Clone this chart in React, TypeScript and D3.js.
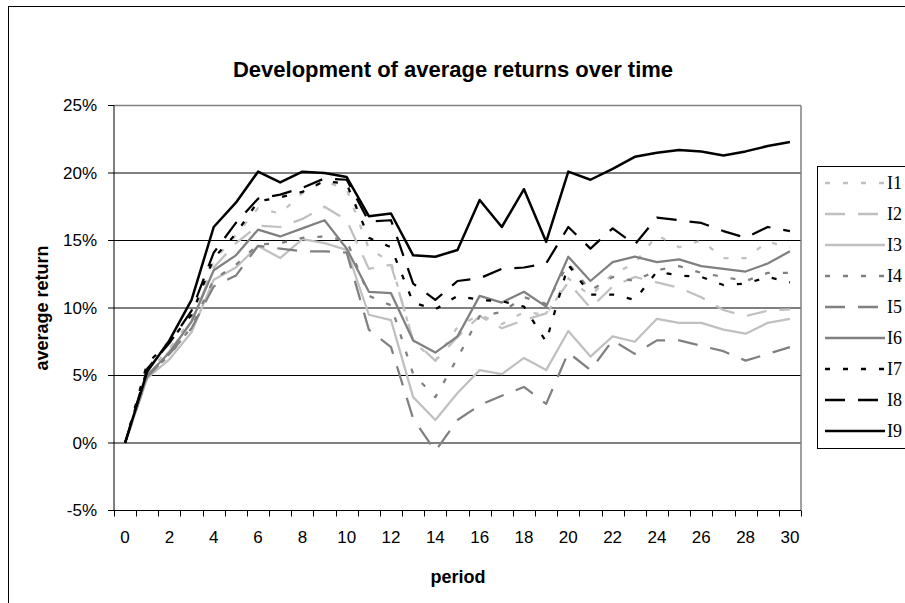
import React from "react";
import * as d3 from "d3";

const periods: number[] = d3.range(0, 31);
const xTickLabels: number[] = [0, 2, 4, 6, 8, 10, 12, 14, 16, 18, 20, 22, 24, 26, 28, 30];
const yTicks: number[] = [-5, 0, 5, 10, 15, 20, 25];

const I1 = [0, 5.2, 7.0, 9.2, 13.5, 15.4, 17.4, 17.0, 18.5, 19.4, 18.8, 14.4, 13.4, 7.5, 6.1, 8.6, 9.5, 8.8, 9.7, 9.5, 12.2, 10.9, 12.5, 13.3, 15.4, 14.5, 15.0, 13.7, 13.7, 14.9, 14.5];
const I2 = [0, 5.0, 6.8, 9.0, 13.0, 14.8, 16.1, 16.0, 16.6, 17.5, 16.5, 12.9, 13.2, 7.6, 6.1, 7.85, 9.4, 8.5, 9.1, 9.6, 11.9, 10.0, 11.6, 12.3, 11.9, 11.5, 10.8, 9.85, 9.4, 9.8, 9.9];
const I3 = [0, 4.8, 6.2, 8.2, 12.1, 13.0, 14.6, 13.7, 15.1, 14.8, 14.3, 9.5, 9.1, 3.4, 1.7, 3.7, 5.4, 5.1, 6.3, 5.4, 8.3, 6.4, 7.9, 7.5, 9.2, 8.9, 8.9, 8.4, 8.1, 8.9, 9.2];
const I4 = [0, 5.0, 6.5, 8.6, 12.1, 13.2, 14.7, 14.8, 15.2, 15.3, 15.0, 10.9, 10.2, 5.1, 3.4, 6.3, 9.4, 9.7, 10.8, 10.3, 13.3, 11.3, 12.3, 12.0, 12.8, 13.1, 12.6, 12.3, 12.0, 12.6, 12.6];
const I5 = [0, 4.9, 6.6, 8.5, 11.6, 12.4, 14.6, 14.4, 14.2, 14.2, 14.1, 8.4, 7.1, 1.8, -0.6, 1.7, 2.8, 3.5, 4.15, 2.9, 6.7, 5.4, 7.6, 6.6, 7.6, 7.6, 7.2, 6.8, 6.1, 6.6, 7.1];
const I6 = [0, 5.0, 6.7, 9.0, 12.8, 13.9, 15.8, 15.3, 15.9, 16.5, 14.4, 11.2, 11.1, 7.6, 6.7, 7.9, 10.9, 10.4, 11.2, 10.1, 13.8, 12.0, 13.4, 13.8, 13.4, 13.6, 13.1, 12.9, 12.7, 13.3, 14.2];
const I7 = [0, 5.9, 7.5, 9.5, 13.7, 15.5, 17.9, 18.2, 18.6, 19.4, 19.2, 15.2, 14.5, 10.4, 9.9, 10.9, 10.6, 10.5, 10.1, 7.5, 13.2, 11.0, 11.0, 10.6, 12.7, 12.4, 12.3, 11.7, 11.8, 12.3, 11.9];
const I8 = [0, 5.5, 7.4, 9.8, 14.1, 16.3, 18.1, 18.4, 18.9, 19.6, 19.5, 16.4, 16.5, 11.8, 10.6, 12.0, 12.2, 12.9, 13.0, 13.3, 16.0, 14.4, 15.9, 14.7, 16.7, 16.5, 16.3, 15.7, 15.2, 16.0, 15.7];
const I9 = [0, 5.3, 7.6, 10.6, 16.0, 17.8, 20.1, 19.3, 20.1, 20.0, 19.7, 16.8, 17.0, 13.9, 13.8, 14.3, 18.0, 16.0, 18.8, 14.9, 20.1, 19.5, 20.3, 21.2, 21.5, 21.7, 21.6, 21.3, 21.6, 22.0, 22.3];

const seriesNames = ["I1", "I2", "I3", "I4", "I5", "I6", "I7", "I8", "I9"];
const seriesValues = [I1, I2, I3, I4, I5, I6, I7, I8, I9];

const LIGHT = "#c0c0c0";
const MID = "#808080";
const DARK = "#000000";
const SHORT = "5,13";
const LONG = "20,13";
const styles = [
  { color: LIGHT, dash: SHORT },
  { color: LIGHT, dash: LONG },
  { color: LIGHT, dash: "none" },
  { color: MID, dash: SHORT },
  { color: MID, dash: LONG },
  { color: MID, dash: "none" },
  { color: DARK, dash: SHORT },
  { color: DARK, dash: LONG },
  { color: DARK, dash: "none" },
];

const W = 905;
const H = 603;
const left = 114;
const right = 801;
const top = 105.5;
const bottom = 510.5;

export default function App() {
  const x = d3.scaleBand<number>().domain(periods).range([left, right]).padding(0);
  const y = d3.scaleLinear().domain([-5, 25]).range([bottom, top]);
  const cx = (p: number) => (x(p) as number) + x.bandwidth() / 2;
  const line = d3
    .line<number>()
    .x((_, i) => cx(periods[i]))
    .y((v) => y(v));

  const font = "'Liberation Sans', Arial, sans-serif";
  const boundaries = d3.range(0, periods.length + 1).map((k) => left + k * x.bandwidth());

  const legendX = 817.5;
  const legendTop = 166.5;
  const legendH = 282;
  const legendStep = 31;

  return (
    <svg
      width={W}
      height={H}
      style={{ position: "absolute", left: 0, top: 0, background: "#fff" }}
    >
      <rect x={0} y={0} width={W} height={H} fill="#fff" />
      <rect x={8.5} y={6.5} width={1200} height={1200} fill="#fff" stroke="#000" strokeWidth={1} />

      <text x={453} y={69} textAnchor="middle" dominantBaseline="central" fontFamily={font} fontWeight="bold" fontSize={22}>
        Development of average returns over time
      </text>

      {/* gridlines */}
      {yTicks.filter((t) => t > -5 && t < 25).map((t) => (
        <line key={"g" + t} x1={left} x2={right} y1={y(t)} y2={y(t)} stroke="#000" strokeWidth={1} />
      ))}
      {/* plot area border */}
      <line x1={left} x2={right} y1={top} y2={top} stroke={MID} strokeWidth={1.5} />
      <line x1={right} x2={right} y1={top} y2={bottom} stroke={MID} strokeWidth={1.5} />

      {/* axes */}
      <line x1={left} x2={left} y1={top} y2={bottom} stroke="#000" strokeWidth={1} />
      <line x1={left} x2={right} y1={bottom} y2={bottom} stroke="#000" strokeWidth={1} />
      {yTicks.map((t) => (
        <g key={"yt" + t}>
          <line x1={left - 6} x2={left} y1={y(t)} y2={y(t)} stroke="#000" strokeWidth={1} />
          <text x={97} y={y(t)} textAnchor="end" dominantBaseline="central" fontFamily={font} fontSize={17}>
            {t + "%"}
          </text>
        </g>
      ))}
      {boundaries.map((bx, k) => (
        <line key={"xt" + k} x1={Math.round(bx) + 0.5} x2={Math.round(bx) + 0.5} y1={bottom} y2={bottom + 6} stroke="#000" strokeWidth={1} />
      ))}
      {xTickLabels.map((p) => (
        <text key={"xl" + p} x={cx(p)} y={537} textAnchor="middle" dominantBaseline="central" fontFamily={font} fontSize={17}>
          {p}
        </text>
      ))}

      <text x={458} y={577} textAnchor="middle" dominantBaseline="central" fontFamily={font} fontWeight="bold" fontSize={18}>
        period
      </text>
      <text
        transform={`translate(48, ${(top + bottom) / 2}) rotate(-90)`}
        textAnchor="middle"
        fontFamily={font}
        fontWeight="bold"
        fontSize={18}
      >
        average return
      </text>

      {/* series */}
      {seriesValues.map((vals, i) => (
        <path
          key={seriesNames[i]}
          d={line(vals) || ""}
          fill="none"
          stroke={styles[i].color}
          strokeWidth={i === 8 ? 2.5 : 2.25}
          strokeDasharray={styles[i].dash}
          strokeLinejoin="round"
        />
      ))}

      {/* legend */}
      <rect x={legendX} y={legendTop} width={200} height={legendH} fill="#fff" stroke="#000" strokeWidth={1} />
      {seriesNames.map((n, i) => {
        const ly = 183 + i * legendStep;
        return (
          <g key={"lg" + n}>
            <line x1={825} x2={885} y1={ly} y2={ly} stroke={styles[i].color} strokeWidth={i === 8 ? 2.5 : 2.5} strokeDasharray={styles[i].dash} />
            <text x={887} y={ly} dominantBaseline="central" fontFamily="'Liberation Serif', 'Times New Roman', serif" fontSize={18}>
              {n}
            </text>
          </g>
        );
      })}
    </svg>
  );
}
